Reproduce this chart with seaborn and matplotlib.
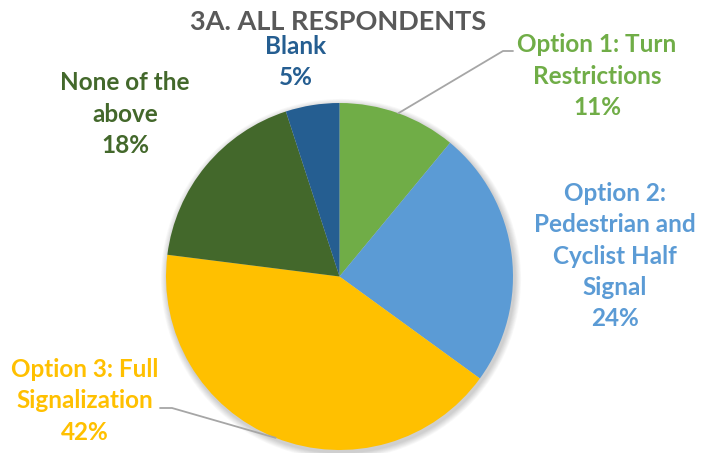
import numpy as np
import matplotlib
matplotlib.use("Agg")
import matplotlib.pyplot as plt
from matplotlib.patches import Circle
import seaborn as sns

# chart data
categories = ["Option 1: Turn\nRestrictions", "Option 2:\nPedestrian and\nCyclist Half\nSignal",
              "Option 3: Full\nSignalization", "None of the\nabove", "Blank"]
shares = [11, 24, 42, 18, 5]
colors = ["#70AD47", "#5B9BD5", "#FFC000", "#43682B", "#255E91"]
title = "3A. ALL RESPONDENTS"

W, H = 702, 453

sns.set_theme(style="white")
plt.rcParams["font.family"] = ["Lato", "DejaVu Sans"]

fig = plt.figure(figsize=(W / 100, H / 100), dpi=100)
ax = fig.add_axes([0, 0, 1, 1])

cx, cy, r = 339.5, H - 276.5, 173.5

# soft shadow under the pie
for k in range(8):
    ax.add_patch(Circle((cx + 1.5, cy - 2.5), r + 1 + k * 0.8, color="#000000",
                        alpha=0.025, lw=0, zorder=0))

wedges, _ = ax.pie(shares, colors=colors, startangle=90, counterclock=False,
                   center=(cx, cy), radius=r, wedgeprops=dict(linewidth=0))
for w in wedges:
    w.set_zorder(2)

ax.set_xlim(0, W)
ax.set_ylim(0, H)
ax.set_aspect("equal")
ax.axis("off")

# label positions (pixel coords, y from top)
label_pos = [(597, 76), (615, 256), (85, 401), (125, 114), (296, 62)]
for name, val, col, (lx, ly) in zip(categories, shares, colors, label_pos):
    ax.text(lx, H - ly, f"{name}\n{val}%", color=col, fontsize=17.5, fontweight="bold",
            ha="center", va="center", linespacing=1.44, zorder=5)

# leader lines for option 1 and option 3, starting at the wedge mid-angle
def edge_point(w):
    ang = np.deg2rad((w.theta1 + w.theta2) / 2)
    return cx + r * np.cos(ang), cy + r * np.sin(ang)

p = edge_point(wedges[0])
ax.plot([p[0], 503, 513], [p[1], H - 51, H - 51], color="#A6A6A6", lw=1.3, zorder=3)
p = edge_point(wedges[2])
ax.plot([160, 172, p[0]], [H - 408, H - 408, p[1]], color="#A6A6A6", lw=1.3, zorder=3)

ax.text(338, H - 22, title, color="#595959", fontsize=19.5, fontweight="bold",
        ha="center", va="center")

fig.savefig("out.png", dpi=100)
